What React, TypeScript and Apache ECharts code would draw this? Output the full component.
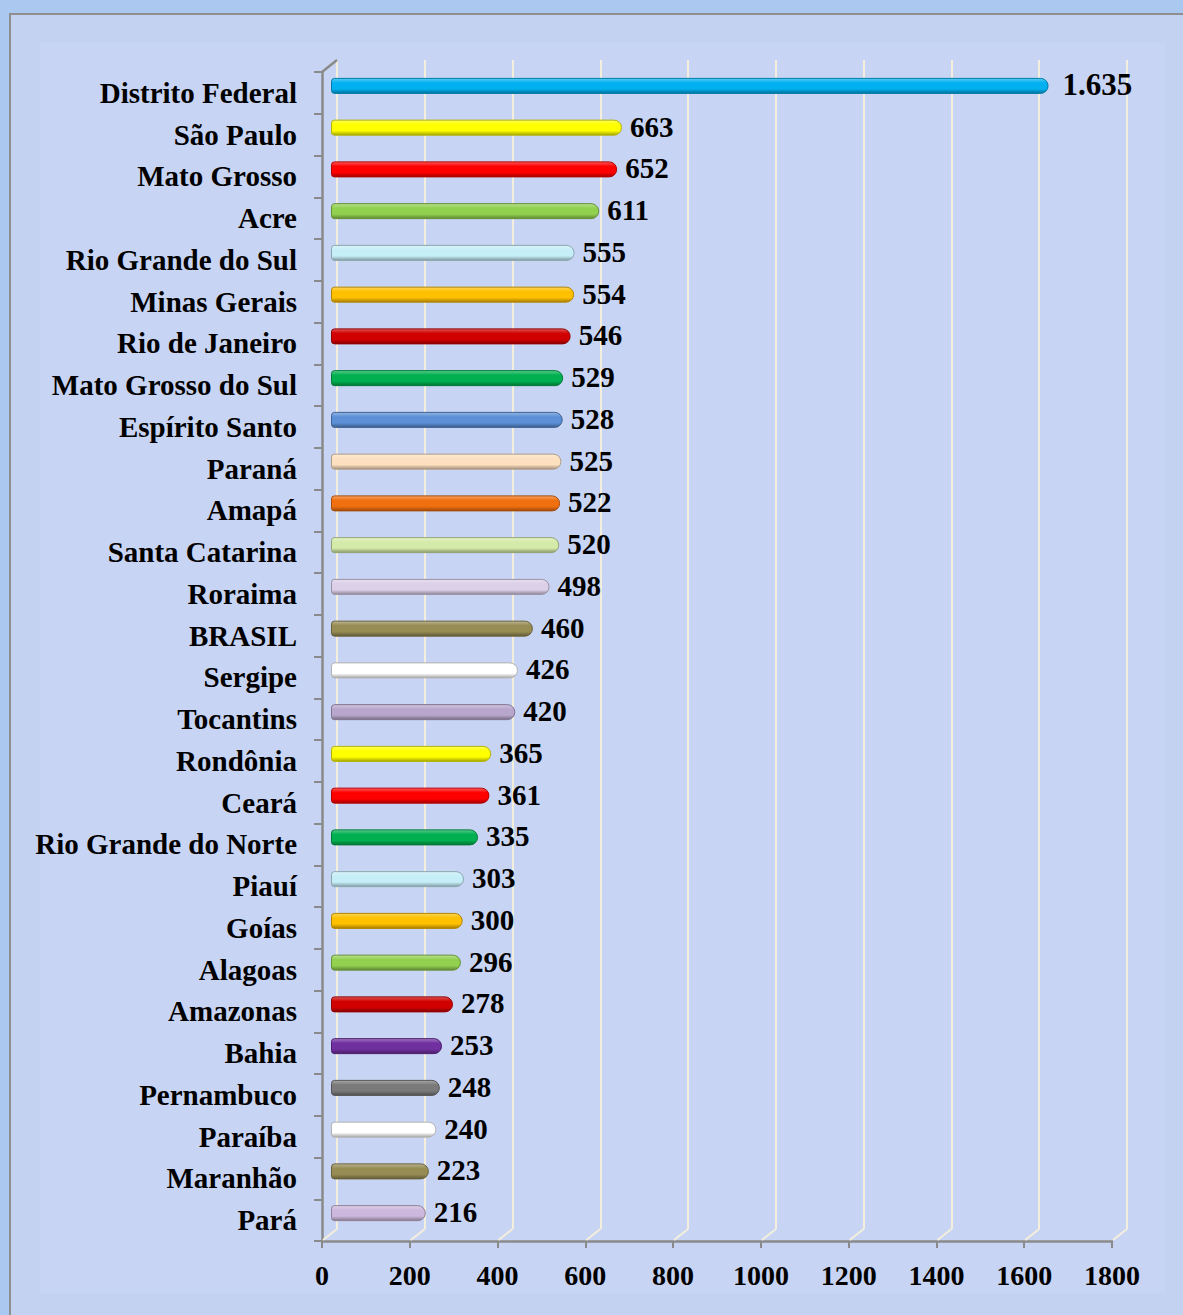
import React, { useEffect, useRef } from "react";
import * as echarts from "echarts";

const categories = [
  "Distrito Federal", "São Paulo", "Mato Grosso", "Acre", "Rio Grande do Sul",
  "Minas Gerais", "Rio de Janeiro", "Mato Grosso do Sul", "Espírito Santo", "Paraná",
  "Amapá", "Santa Catarina", "Roraima", "BRASIL", "Sergipe", "Tocantins", "Rondônia",
  "Ceará", "Rio Grande do Norte", "Piauí", "Goías", "Alagoas", "Amazonas", "Bahia",
  "Pernambuco", "Paraíba", "Maranhão", "Pará",
];
const values = [
  1635, 663, 652, 611, 555, 554, 546, 529, 528, 525, 522, 520, 498, 460, 426, 420,
  365, 361, 335, 303, 300, 296, 278, 253, 248, 240, 223, 216,
];
const barColors = [
  "#00b0f0", "#ffff00", "#ff0000", "#92d050", "#c6eef8", "#ffc000", "#d00000",
  "#00b050", "#5b8fd6", "#fde0c0", "#f07010", "#d4eaa8", "#dccfe8", "#968c54",
  "#ffffff", "#b8a6cc", "#ffff00", "#ff0000", "#00b050", "#c6eef8", "#ffc000",
  "#92d050", "#d00000", "#7030a0", "#7a7a7a", "#ffffff", "#968c54", "#ccb8dc",
];
const xTickValues = [0, 200, 400, 600, 800, 1000, 1200, 1400, 1600, 1800];
const X_MIN = 0;
const X_MAX = 1800;
const X_INTERVAL = 200;

const FONT = "'Liberation Serif', 'Times New Roman', serif";

function mix(hex: string, target: number, t: number) {
  const n = parseInt(hex.slice(1), 16);
  const r = (n >> 16) & 255, g = (n >> 8) & 255, b = n & 255;
  const f = (c: number) => Math.round(c + (target - c) * t);
  return `rgb(${f(r)},${f(g)},${f(b)})`;
}

function fmtBR(v: number) {
  return String(v).replace(/\B(?=(\d{3})+(?!\d))/g, ".");
}

export default function App() {
  const ref = useRef<HTMLDivElement>(null);
  useEffect(() => {
    if (!ref.current) return;
    const chart = echarts.init(ref.current, undefined, { renderer: "svg" });

    const gridA = { left: 322, top: 72, width: 790, height: 1169 };
    const gridB = { left: 337, top: 60, width: 790, height: 1169 };
    const gridC = { left: 331, top: 65, width: 790, height: 1169 };

    const barData = values.map((v, i) => {
      const c = barColors[i];
      return {
        value: v,
        itemStyle: {
          color: new echarts.graphic.LinearGradient(0, 0, 0, 1, [
            { offset: 0, color: mix(c, 255, 0.35) },
            { offset: 0.3, color: c },
            { offset: 0.7, color: c },
            { offset: 1, color: mix(c, 0, 0.35) },
          ]),
          borderColor: mix(c, 0, 0.3),
          borderWidth: 1,
          borderRadius: [3, 8, 8, 3],
        },
        label: i === 0 ? { fontSize: 31, distance: 14 } : undefined,
      };
    });

    const option: any = {
      animation: false,
      graphic: [
        {
          type: "rect",
          z: -100,
          silent: true,
          shape: { x: 0, y: 0, width: 1183, height: 1315 },
          style: { fill: "#abc9f0" },
        },
        {
          type: "rect",
          z: -99,
          silent: true,
          shape: { x: 10, y: 14, width: 1180, height: 1310 },
          style: { fill: "#c4d2f2", stroke: "#8f8f8f", lineWidth: 2 },
        },
        {
          type: "rect",
          z: -98,
          silent: true,
          shape: { x: 40, y: 43, width: 1125, height: 1250 },
          style: { fill: "#c8d4f3" },
        },
      ],
      grid: [
        { ...gridA, containLabel: false },
        { ...gridB, containLabel: false },
        { ...gridC, containLabel: false },
      ],
      xAxis: [
        {
          gridIndex: 0,
          type: "value",
          min: X_MIN,
          max: X_MAX,
          interval: X_INTERVAL,
          axisLine: { show: true, lineStyle: { color: "#8a8a8a", width: 2.5 } },
          axisTick: { show: true, length: 7, lineStyle: { color: "#8a8a8a", width: 2 } },
          splitLine: { show: false },
          axisLabel: {
            margin: 20,
            fontFamily: FONT,
            fontWeight: "bold",
            fontSize: 28,
            color: "#000",
            formatter: (v: number) => String(v),
          },
        },
        {
          gridIndex: 1,
          type: "value",
          min: X_MIN,
          max: X_MAX,
          interval: X_INTERVAL,
          axisLine: { show: false },
          axisTick: { show: false },
          axisLabel: { show: false },
          splitLine: { show: true, lineStyle: { color: "#f4efdc", width: 2 } },
        },
        {
          gridIndex: 2,
          type: "value",
          min: X_MIN,
          max: X_MAX,
          show: false,
          splitLine: { show: false },
        },
      ],
      yAxis: [
        {
          gridIndex: 0,
          type: "category",
          data: categories,
          inverse: true,
          axisLine: { show: true, lineStyle: { color: "#8a8a8a", width: 2.5 } },
          axisTick: { show: true, length: 8, lineStyle: { color: "#8a8a8a", width: 2 } },
          axisLabel: {
            margin: 25,
            fontFamily: FONT,
            fontWeight: "bold",
            fontSize: 29,
            color: "#000",
          },
          splitLine: { show: false },
        },
        {
          gridIndex: 1,
          type: "category",
          data: categories,
          inverse: true,
          show: false,
        },
        {
          gridIndex: 2,
          type: "category",
          data: categories,
          inverse: true,
          show: false,
        },
      ],
      series: [
        {
          type: "custom",
          xAxisIndex: 0,
          yAxisIndex: 0,
          silent: true,
          z: 1,
          data: xTickValues.map((v) => [v, 0]),
          renderItem: (params: any, api: any) => {
            const x = api.coord([api.value(0), 0])[0];
            const cs = params.coordSys;
            const b = cs.y + cs.height;
            return {
              type: "line",
              shape: { x1: x + 1, y1: b - 1, x2: x + 15, y2: b - 12 },
              style: { stroke: "#f4efdc", lineWidth: 2 },
            };
          },
        },
        {
          type: "custom",
          xAxisIndex: 0,
          yAxisIndex: 0,
          silent: true,
          z: 3,
          data: [[X_MIN, 0]],
          renderItem: (params: any, api: any) => {
            const x = api.coord([api.value(0), 0])[0];
            const cs = params.coordSys;
            return {
              type: "line",
              shape: { x1: x, y1: cs.y, x2: x + 15, y2: cs.y - 12 },
              style: { stroke: "#8a8a8a", lineWidth: 2.5 },
            };
          },
        },
        {
          type: "bar",
          xAxisIndex: 2,
          yAxisIndex: 2,
          barWidth: 16,
          z: 5,
          data: barData,
          label: {
            show: true,
            position: "right",
            distance: 8,
            offset: [0, -1],
            fontFamily: FONT,
            fontWeight: "bold",
            fontSize: 29,
            color: "#000",
            formatter: (p: any) => fmtBR(p.value),
          },
        },
      ],
    };

    chart.setOption(option);
    return () => chart.dispose();
  }, []);

  return (
    <div
      ref={ref}
      style={{ position: "absolute", left: 0, top: 0, width: 1183, height: 1315 }}
    />
  );
}
